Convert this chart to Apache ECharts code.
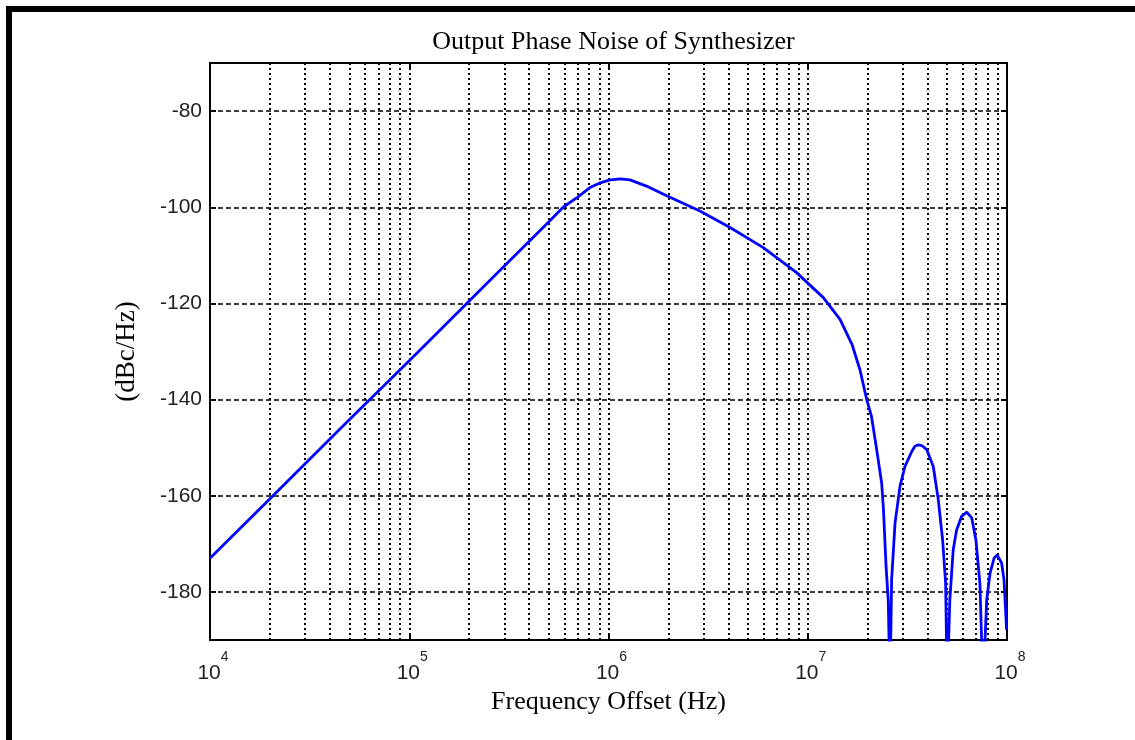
<!DOCTYPE html>
<html>
<head>
<meta charset="utf-8">
<script src="https://cdn.jsdelivr.net/npm/echarts@6/dist/echarts.min.js"></script>
<style>
html,body{margin:0;padding:0;background:#fff;}
#chart{width:1135px;height:740px;}
</style>
</head>
<body>
<div id="chart"></div>
<script>
// Data
const freqHz = [1e4, 2e4, 3.162e4, 5e4, 1e5, 2e5, 3.162e5, 5.08e5, 5.916e5, 7e5,
  8.07e5, 9e5, 1.019e6, 1.15e6, 1.282e6, 1.55e6, 1.959e6, 2.877e6, 4.074e6, 5.984e6, 8.79e6, 1.197e7,
  1.452e7, 1.667e7, 1.828e7, 1.977e7, 2.089e7, 2.218e7, 2.35e7, 2.399e7, 2.472e7, 2.535e7,
  2.588e7, 2.636e7, 2.742e7, 2.904e7, 3.076e7, 3.327e7, 3.45e7, 3.589e7, 3.75e7, 3.954e7, 4.266e7, 4.519e7,
  4.753e7, 4.92e7, 5.012e7, 5.164e7, 5.37e7, 5.585e7, 5.916e7, 6.281e7, 6.653e7, 6.982e7,
  7.311e7, 7.586e7, 7.907e7, 8.222e7, 8.61e7, 8.933e7, 9.397e7, 9.661e7, 9.954e7, 1e8];
const noiseDb = [-173, -160.6, -152.4, -144.2, -131.9, -119.5, -111.3, -102.8, -100, -97.9,
  -95.9, -95.0, -94.3, -94.1, -94.3, -95.6, -97.6, -100.8, -104.2, -108.4, -113.6, -118.8,
  -123.3, -128.5, -133.8, -140, -143.5, -150.4, -157.4, -162.9, -174.7, -181.7,
  -200, -177.5, -165.7, -158, -153.9, -150.8, -149.7, -149.4, -149.6, -150.4, -153.9, -160.8,
  -169.2, -178.2, -200, -181.7, -171.3, -167.1, -164.3, -163.4, -164.6, -169.2,
  -178.2, -200, -181.7, -176.1, -173, -172.3, -174, -177.5, -187.9, -188];
// Vertical grid-line positions (log minor + major)
const gridFreqs = [2e4,3e4,4e4,5e4,6e4,7e4,8e4,9e4,1e5,
  2e5,3e5,4e5,5e5,6e5,7e5,8e5,9e5,1e6,
  2e6,3e6,4e6,5e6,6e6,7e6,8e6,9e6,1e7,
  2e7,3e7,4e7,5e7,6e7,7e7,8e7,9e7];
const titleText = 'Output Phase Noise of Synthesizer';
const xName = 'Frequency Offset (Hz)';
const yName = '(dBc/Hz)';
const yMin = -190, yMax = -70;
const xMin = 1e4, xMax = 1e8;

const chart = echarts.init(document.getElementById('chart'), null, {renderer: 'canvas'});
const curve = freqHz.map((f, i) => [f, noiseDb[i]]);

const tickFont = {fontFamily: 'Liberation Sans', color: '#222'};
const option = {
  animation: false,
  backgroundColor: '#fff',
  title: {
    text: titleText,
    left: 608.5,
    textAlign: 'center',
    top: 24,
    textStyle: {fontFamily: 'Liberation Serif', fontSize: 26, fontWeight: 'normal', color: '#000'}
  },
  grid: {left: 210, right: 128, top: 63, bottom: 100, show: true, borderColor: '#000', borderWidth: 2, backgroundColor: 'transparent'},
  graphic: [{
    type: 'rect', shape: {x: 9, y: 9, width: 1300, height: 900},
    style: {fill: 'none', stroke: '#000', lineWidth: 6}, silent: true, z: 100
  }],
  xAxis: [{
    type: 'log', logBase: 10, min: xMin, max: xMax, position: 'bottom',
    name: xName, nameLocation: 'middle', nameGap: 42,
    nameTextStyle: {fontFamily: 'Liberation Serif', fontSize: 26, color: '#000'},
    axisLine: {show: true, lineStyle: {color: '#000', width: 2}},
    axisTick: {show: true, inside: true, length: 6, lineStyle: {color: '#000', width: 2}},
    splitLine: {show: false},
    axisLabel: {
      margin: 10,
      formatter: v => '{b|10}{s|' + Math.round(Math.log10(v)) + '}',
      rich: {
        b: Object.assign({fontSize: 21, lineHeight: 34, verticalAlign: 'bottom', padding: [0,0,0,6]}, tickFont),
        s: Object.assign({fontSize: 14, lineHeight: 14, verticalAlign: 'top'}, tickFont)
      }
    }
  }, {
    type: 'log', logBase: 10, min: xMin, max: xMax, position: 'top',
    axisLine: {show: true, lineStyle: {color: '#000', width: 2}},
    axisTick: {show: true, inside: true, length: 6, lineStyle: {color: '#000', width: 2}},
    axisLabel: {show: false}, splitLine: {show: false}
  }],
  yAxis: [{
    type: 'value', min: yMin, max: yMax, splitNumber: 6, position: 'left',
    name: yName, nameLocation: 'middle', nameGap: 70, nameRotate: 90,
    nameTextStyle: {fontFamily: 'Liberation Serif', fontSize: 27, color: '#000'},
    axisLine: {show: true, lineStyle: {color: '#000', width: 2}},
    axisTick: {show: true, inside: true, length: 6, lineStyle: {color: '#000', width: 2}},
    axisLabel: Object.assign({fontSize: 21, margin: 8, showMinLabel: false, showMaxLabel: false}, tickFont),
    splitLine: {show: true, lineStyle: {color: '#000', width: 1.5, type: [5, 3]}}
  }, {
    type: 'value', min: yMin, max: yMax, splitNumber: 6, position: 'right',
    axisLine: {show: true, lineStyle: {color: '#000', width: 2}},
    axisTick: {show: true, inside: true, length: 6, lineStyle: {color: '#000', width: 2}},
    axisLabel: {show: false}, splitLine: {show: false}
  }],
  series: [{
    type: 'line', xAxisIndex: 0, yAxisIndex: 0, data: [], silent: true,
    markLine: {
      silent: true, symbol: ['none', 'none'], label: {show: false},
      lineStyle: {color: '#000', width: 2, type: [2, 3]},
      data: gridFreqs.map(f => ({xAxis: f}))
    }
  }, {
    type: 'line', xAxisIndex: 0, yAxisIndex: 0, data: curve,
    showSymbol: false, clip: true, z: 5,
    lineStyle: {color: '#0000ff', width: 2.8}
  }]
};
chart.setOption(option);
</script>
</body>
</html>
